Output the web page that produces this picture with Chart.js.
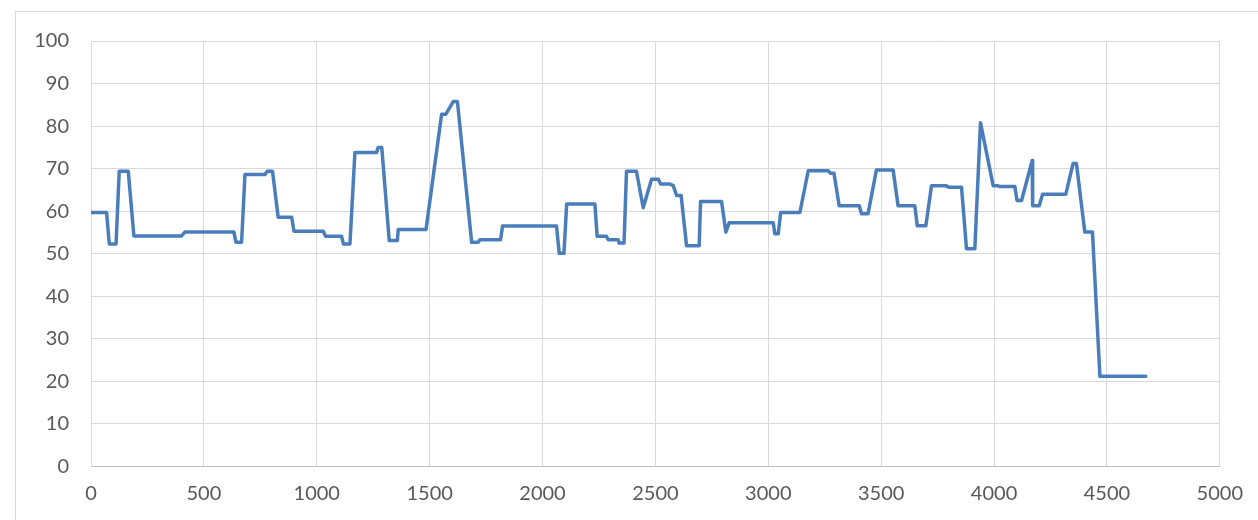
<!DOCTYPE html>
<html>
<head>
<meta charset="utf-8">
<script src="https://cdn.jsdelivr.net/npm/chart.js@4"></script>
<style>
  html, body { margin: 0; padding: 0; background: #fff; }
  #wrap { width: 1258px; height: 520px; position: relative; }
</style>
</head>
<body>
<div id="wrap"><canvas id="c" width="1258" height="520"></canvas></div>
<script>
const xValues = [0,69,81,111,125,165,190,401,416,633,642,667,682,770,781,804,829,889,899,1029,1039,1110,1118,1147,1169,1265,1272,1288,1321,1357,1361,1484,1553,1572,1605,1623,1686,1715,1723,1814,1823,2062,2074,2095,2107,2232,2242,2283,2291,2335,2340,2361,2372,2416,2446,2483,2513,2523,2564,2579,2594,2614,2638,2694,2700,2793,2812,2827,3022,3029,3044,3055,3140,3177,3265,3276,3291,3314,3403,3413,3442,3479,3553,3575,3649,3660,3698,3723,3786,3801,3856,3878,3915,3940,3996,4014,4026,4092,4102,4122,4169,4171,4200,4215,4318,4350,4365,4402,4436,4469,4672];
const yValues = [59.7,59.7,52.3,52.3,69.4,69.4,54.2,54.2,55.1,55.1,52.7,52.7,68.6,68.6,69.4,69.4,58.6,58.6,55.3,55.3,54.1,54.1,52.3,52.3,73.8,73.8,75,75,53.1,53.1,55.7,55.7,82.8,82.8,85.8,85.8,52.7,52.7,53.3,53.3,56.5,56.5,50.1,50.1,61.7,61.7,54.1,54.1,53.3,53.3,52.5,52.5,69.4,69.4,60.8,67.5,67.5,66.4,66.4,66.0,63.7,63.7,51.9,51.9,62.3,62.3,55.1,57.3,57.3,54.7,54.7,59.7,59.7,69.5,69.5,68.9,68.9,61.3,61.3,59.4,59.4,69.7,69.7,61.3,61.3,56.6,56.6,66.0,66.0,65.6,65.6,51.2,51.2,80.8,66.0,66.0,65.8,65.8,62.5,62.5,71.9,61.3,61.3,64.0,64.0,71.2,71.2,55.1,55.1,21.2,21.2];
const xTicks = [0,500,1000,1500,2000,2500,3000,3500,4000,4500,5000];
const yTicks = [0,10,20,30,40,50,60,70,80,90,100];

const points = xValues.map((x, i) => ({ x: x, y: yValues[i] }));

const borderPlugin = {
  id: 'outerBorder',
  beforeDraw(chart) {
    const ctx = chart.ctx;
    ctx.save();
    ctx.fillStyle = '#ffffff';
    ctx.fillRect(0, 0, chart.width, chart.height);
    ctx.strokeStyle = '#d9d9d9';
    ctx.lineWidth = 1;
    ctx.strokeRect(15.5, 11.5, 1400, 700);
    ctx.restore();
  }
};

new Chart(document.getElementById('c'), {
  type: 'line',
  data: {
    datasets: [{
      data: points,
      borderColor: '#4a7ebb',
      borderWidth: 3.5,
      pointRadius: 0,
      tension: 0,
      fill: false,
      borderJoinStyle: 'round',
      borderCapStyle: 'round'
    }]
  },
  options: {
    responsive: false,
    animation: false,
    devicePixelRatio: 1,
    layout: { padding: { left: 15, right: 38, top: 41, bottom: 0 } },
    plugins: { legend: { display: false }, tooltip: { enabled: false } },
    scales: {
      x: {
        type: 'linear',
        min: 0, max: 5000,
        afterBuildTicks(scale) { scale.ticks = xTicks.map(v => ({ value: v })); },
        afterFit(scale) { scale.height = 53.5; },
        grid: { color: '#d9d9d9', lineWidth: 1, drawTicks: false },
        border: { color: '#bfbfbf', width: 1 },
        ticks: { color: '#595959', font: { family: 'Lato', size: 20 }, padding: 15, maxRotation: 0,
                 callback: v => String(v) }
      },
      y: {
        min: 0, max: 100,
        afterBuildTicks(scale) { scale.ticks = yTicks.map(v => ({ value: v })); },
        afterFit(scale) { scale.width = 76; },
        grid: { color: '#d9d9d9', lineWidth: 1, drawTicks: false },
        border: { color: '#d9d9d9', width: 1 },
        ticks: { color: '#595959', font: { family: 'Lato', size: 20 }, padding: 22,
                 callback: v => String(v) }
      }
    }
  },
  plugins: [borderPlugin]
});
</script>
</body>
</html>
